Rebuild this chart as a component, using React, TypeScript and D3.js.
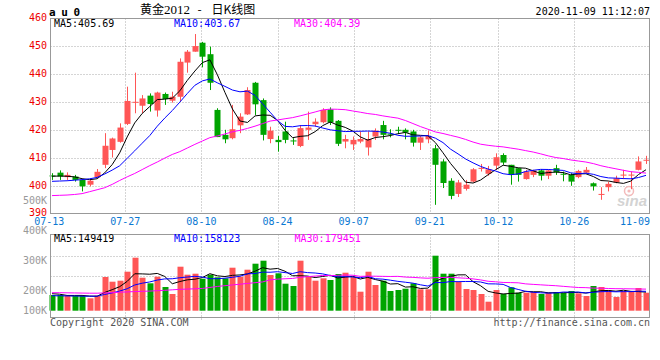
import React from "react";
import * as d3 from "d3";

const dates = [
  "07-13","07-14","07-15","07-16","07-17","07-20","07-21","07-22","07-23","07-24",
  "07-27","07-28","07-29","07-30","07-31","08-03","08-04","08-05","08-06","08-07",
  "08-10","08-11","08-12","08-13","08-14","08-17","08-18","08-19","08-20","08-21",
  "08-24","08-25","08-26","08-27","08-28","08-31","09-01","09-02","09-03","09-04",
  "09-07","09-08","09-09","09-10","09-11","09-14","09-15","09-16","09-17","09-18",
  "09-21","09-22","09-23","09-24","09-25","09-28","09-29","09-30","10-09","10-12",
  "10-13","10-14","10-15","10-16","10-19","10-20","10-21","10-22","10-23","10-26",
  "10-27","10-28","10-29","10-30","11-02","11-03","11-04","11-05","11-06","11-09",
];

const opens = [
  403.7,404.7,403.1,403.3,402.1,400.4,403.1,407.5,412.8,415.7,
  422.1,429.9,428.6,432.2,426.9,432.8,430.4,431.8,444.0,447.9,
  451.1,447.0,427.1,418.2,417.0,421.6,425.5,436.8,430.6,416.7,
  416.4,419.4,416.2,414.2,420.0,422.0,422.7,427.3,423.2,415.8,
  414.8,415.8,413.7,417.6,421.7,418.6,420.0,420.0,419.4,415.4,
  416.6,413.4,408.7,401.8,397.1,398.9,401.5,406.2,404.3,407.2,
  411.0,407.5,406.3,402.4,403.9,405.5,403.6,406.3,404.3,403.9,
  403.1,404.7,400.9,397.0,399.5,401.2,403.9,403.9,405.7,409.2,
];
const highs = [
  404.5,405.5,404.8,403.9,402.4,402.4,406.0,418.8,417.2,422.3,
  435.4,440.4,432.4,433.0,433.6,433.3,433.6,445.5,448.5,454.2,
  451.4,449.7,427.7,420.0,428.9,425.9,435.2,437.1,431.2,421.1,
  417.8,422.9,417.0,421.7,426.5,424.1,427.7,428.0,423.5,418.2,
  417.6,419.4,419.4,420.5,423.2,420.2,421.1,420.5,420.0,417.8,
  419.7,414.6,409.5,402.7,402.1,402.1,406.3,407.8,407.1,411.6,
  411.6,407.5,406.3,405.7,405.7,405.9,405.7,407.5,405.1,404.5,
  405.7,406.7,401.2,399.5,401.5,403.6,405.7,405.1,410.5,410.7,
];
const lows = [
  402.1,402.1,402.1,401.5,398.0,399.8,402.8,406.3,410.1,415.4,
  421.7,425.9,425.9,426.5,424.7,428.9,429.7,430.1,440.4,447.9,
  442.3,434.2,417.4,415.2,416.6,418.8,425.3,425.3,416.2,415.2,
  412.2,415.2,414.6,413.8,416.4,421.1,422.3,421.7,414.2,413.4,
  412.8,415.2,410.8,416.4,416.6,417.3,418.5,416.6,414.0,412.8,
  415.2,393.2,399.2,395.2,396.0,398.3,401.2,405.1,403.6,405.7,
  407.5,400.4,401.5,402.2,403.1,401.9,402.4,403.9,401.6,400.0,
  402.7,404.5,398.3,395.0,398.0,400.9,402.4,398.8,405.5,407.8,
];
const closes = [
  403.6,403.3,403.9,402.1,399.8,401.8,405.0,414.3,416.9,420.8,
  430.3,430.0,431.2,429.2,433.3,431.0,431.8,444.3,447.9,449.9,
  446.1,436.8,417.4,416.6,420.2,424.7,434.2,429.1,418.2,419.7,
  415.6,416.4,416.0,420.6,420.8,422.9,427.1,422.6,415.0,416.7,
  416.4,416.7,416.7,419.7,418.2,418.5,419.9,419.0,415.4,417.3,
  417.8,407.5,401.0,396.4,401.2,400.4,405.9,406.4,405.9,410.2,
  408.3,403.9,403.9,405.1,405.5,403.6,405.5,404.8,404.2,401.5,
  405.3,405.7,399.8,397.1,400.7,402.7,404.0,404.0,408.7,409.3,
];
const volumes = [
  162800,162800,160000,160000,160000,149600,160000,234800,216000,220000,
  256000,312000,232000,209600,236000,194800,166800,276000,244000,248000,
  228000,244000,233600,229600,272000,236000,264000,288000,300000,242800,
  249600,208000,198800,300000,236000,220000,229600,222800,246800,252000,
  236000,176000,256000,202800,220000,178800,182800,188000,209600,185600,
  185600,320000,248000,248000,214800,186800,182800,166800,136000,182800,
  166800,193600,172000,172000,174800,166800,172000,174800,170800,178800,
  169600,158800,198800,194800,182800,154800,178800,174800,190800,172000,
];

// Moving-average values before enough bars exist on the chart
const ma5Head = [403.4, 403.5, 403.4, 403.2];
const ma10Head = [401.6, 401.7, 401.8, 402.0, 402.2, 402.5, 403.0, 404.2, 405.6];
const ma30Head = [
  396.5,396.6,396.7,396.9,397.2,397.9,398.6,399.3,400.5,401.9,
  403.2,404.4,405.8,407.2,408.5,409.9,411.2,412.2,413.5,414.8,
  416.0,417.2,417.8,418.5,419.3,419.8,420.5,421.3,422.2,
];
const vma5Head = [168000, 166000, 161000, 161000];
const vma10Head = [160000, 160000, 159000, 159000, 158000, 158000, 158000, 165000, 171000];
const vma30Head = [
  172000,172000,171500,171000,170500,170000,170000,171000,172000,174000,
  175000,176500,177500,178500,180000,181500,183500,185500,186500,187500,
  189000,193000,197000,200000,203000,206000,209000,212000,215000,
];

const priceTicks = [460, 450, 440, 430, 420, 410, 400, 390];
const priceGrid = [450, 440, 430, 420, 410, 400];
const volTicks = [500000, 400000, 300000, 200000, 100000];
const volTickLabels = ["500K", "400K", "300K", "200K", "100K"];
const dateTicks = ["07-13", "07-27", "08-10", "08-24", "09-07", "09-21", "10-12", "10-26", "11-09"];
const maNames = ["MA5", "MA10", "MA30"];
const priceMaText = ["405.69", "403.67", "404.39"];
const volMaText = ["149419", "158123", "179451"];

const RED = "#ff5656";
const GREEN = "#00a400";
const MA_COLORS = ["#000000", "#0000ff", "#ff00ff"];
const MONO = "'DejaVu Sans Mono', monospace";

function movingAverage(vals: number[], n: number, head: number[]) {
  return vals.map((v, i) => (i < n - 1 ? head[i] : (d3.mean(vals.slice(i - n + 1, i + 1)) as number)));
}

export default function App() {
  const W = 660, H = 360;
  const L = 50.5, R = 649.5, T = 18.5, B = 213.5;
  const VT = 234.5, VB = 317.5;
  const n = dates.length;

  const x = d3.scaleLinear().domain([0, n - 1]).range([52, 646]);
  const xg = d3.scaleLinear().domain([0, n - 1]).range([49.2, 650.4]);
  const y = d3.scaleLinear().domain([390, 460]).range([213.8, 17.8]);
  const yv = d3.scaleLinear().domain([100000, 400000]).range([310.7, 235.7]);
  const yvLabel = d3.scaleLinear().domain([100000, 200000, 500000]).range([314, 294, 204]);

  const pMAs = [movingAverage(closes, 5, ma5Head), movingAverage(closes, 10, ma10Head), movingAverage(closes, 30, ma30Head)];
  const vMAs = [movingAverage(volumes, 5, vma5Head), movingAverage(volumes, 10, vma10Head), movingAverage(volumes, 30, vma30Head)];

  const pLine = d3.line<number>().x((_, i) => x(i)).y((d) => y(d));
  const vLine = d3.line<number>().x((_, i) => x(i)).y((d) => yv(d));

  const gridIdx = dateTicks.map((d) => dates.indexOf(d));
  const vGridRows = d3.range(1, 4).map((k) => 235.7 + (k * (315.7 - 235.7)) / 4);
  const bw = 6;

  return (
    <svg width={W} height={H} style={{ position: "absolute", left: 0, top: 0, background: "#fff" }} fontFamily={MONO}>
      {/* header */}
      <text x={49} y={15.5} fontSize={11} fontWeight="bold" letterSpacing={5.6} fill="#000">au0</text>
      <text y={13.5} fontSize={12} fill="#000" fontFamily="'Noto Sans CJK SC', sans-serif">
        <tspan x={140}>黄金</tspan>
        <tspan fontFamily="'Liberation Serif', serif" fontSize={13}>2012</tspan>
        <tspan x={197.5}>-</tspan>
        <tspan> </tspan>
        <tspan x={211.5}>日K线图</tspan>
      </text>
      <text x={650} y={15} fontSize={10} textAnchor="end" fill="#000">2020-11-09 11:12:07</text>

      {/* main panel grid */}
      {priceGrid.map((p) => (
        <line key={"pg" + p} x1={L} x2={R} y1={Math.round(y(p)) + 0.5} y2={Math.round(y(p)) + 0.5} stroke="#aaa" strokeDasharray="1 2" />
      ))}
      {gridIdx.slice(1, -1).map((i) => (
        <line key={"vg" + i} x1={Math.round(xg(i)) + 0.5} x2={Math.round(xg(i)) + 0.5} y1={T} y2={B} stroke="#aaa" strokeDasharray="1 2" />
      ))}
      {gridIdx.slice(1, -1).map((i) => (
        <line key={"vvg" + i} x1={Math.round(xg(i)) + 0.5} x2={Math.round(xg(i)) + 0.5} y1={VT} y2={321} stroke="#aaa" strokeDasharray="1 2" />
      ))}
      {vGridRows.map((gy) => (
        <line key={"vr" + gy} x1={L} x2={R} y1={Math.round(gy) + 0.5} y2={Math.round(gy) + 0.5} stroke="#aaa" strokeDasharray="1 2" />
      ))}

      {/* sina watermark */}
      <g opacity={0.9}>
        <circle cx={629} cy={191} r={4.5} fill="none" stroke="#f3b3b3" strokeWidth={1.5} />
        <circle cx={629} cy={191} r={1.6} fill="#f3b3b3" />
        <text x={617} y={206} fontSize={15} fontStyle="italic" fontWeight="bold" fill="#cfcfcf" fontFamily="'Liberation Sans', sans-serif">sina</text>
      </g>

      {/* candles */}
      {dates.map((d, i) => {
        const up = closes[i] >= opens[i];
        const c = up ? RED : GREEN;
        const cx = Math.round(x(i)) + 0.5;
        const top = y(Math.max(opens[i], closes[i]));
        const bot = y(Math.min(opens[i], closes[i]));
        return (
          <g key={"c" + d}>
            <line x1={cx} x2={cx} y1={y(highs[i])} y2={y(lows[i])} stroke={c} strokeWidth={1} />
            <rect x={cx - bw / 2} y={top} width={bw} height={Math.max(1, bot - top)} fill={c} />
          </g>
        );
      })}

      {/* price MA lines */}
      {pMAs.map((m, k) => (
        <path key={"pm" + k} d={pLine(m) as string} fill="none" stroke={MA_COLORS[k]} strokeWidth={1} />
      ))}

      {/* volume bars */}
      {dates.map((d, i) => {
        const up = closes[i] >= opens[i];
        const cx = Math.round(x(i)) + 0.5;
        return (
          <rect key={"v" + d} x={cx - bw / 2} y={yv(volumes[i])} width={bw} height={yv(100000) - yv(volumes[i])} fill={up ? RED : GREEN} />
        );
      })}
      {vMAs.map((m, k) => (
        <path key={"vm" + k} d={vLine(m) as string} fill="none" stroke={MA_COLORS[k]} strokeWidth={1} />
      ))}

      {/* frames */}
      <rect x={L} y={T} width={R - L} height={B - T} fill="none" stroke="#999" strokeWidth={1} />
      <rect x={L} y={VT} width={R - L} height={VB - VT} fill="none" stroke="#999" strokeWidth={1} />

      {/* MA header texts */}
      {maNames.map((nm, k) => (
        <text key={"pt" + k} x={[54, 174, 294][k]} y={27.3} fontSize={10} fill={MA_COLORS[k]}>{nm}:{priceMaText[k]}</text>
      ))}
      {maNames.map((nm, k) => (
        <text key={"vt" + k} x={[54, 174, 294.5][k]} y={242} fontSize={10} fill={MA_COLORS[k]}>{nm}:{volMaText[k]}</text>
      ))}

      {/* price axis labels */}
      {priceTicks.map((p) => (
        <text key={"pl" + p} x={47} y={Math.min(y(p) + 2.8, 215.6)} fontSize={10} textAnchor="end" fill="#ee0000">{p}</text>
      ))}
      {/* volume axis labels */}
      {volTicks.map((v, k) => (
        <text key={"vl" + v} x={47} y={yvLabel(v)} fontSize={10} textAnchor="end" fill="#999">{volTickLabels[k]}</text>
      ))}
      {/* date labels */}
      {dateTicks.map((dt, k) => {
        const gx = xg(dates.indexOf(dt));
        const last = k === dateTicks.length - 1;
        return (
          <text key={"dl" + dt} x={last ? 650 : gx} y={225.3} fontSize={10} textAnchor={last ? "end" : "middle"} fill="#0a78d2">{dt}</text>
        );
      })}

      <text x={50} y={325.5} fontSize={10} fill="#555">Copyright 2020 SINA.COM</text>
      <text x={650} y={325.5} fontSize={10} textAnchor="end" fill="#555">http://finance.sina.com.cn</text>
    </svg>
  );
}
